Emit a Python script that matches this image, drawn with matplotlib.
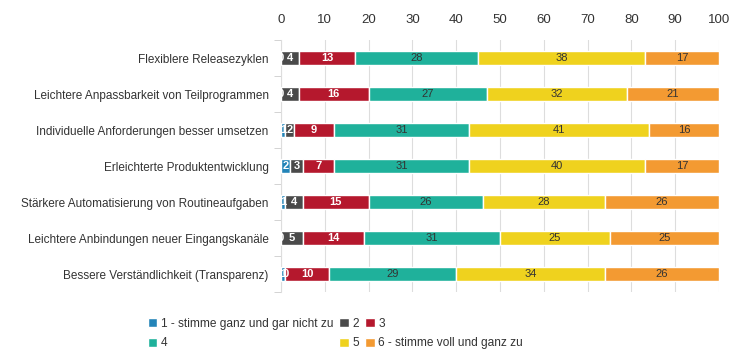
import matplotlib
matplotlib.use('Agg')
import matplotlib.pyplot as plt
import numpy as np

plt.rcParams['font.family'] = ['Liberation Sans', 'DejaVu Sans']

# data (percent per answer level)
categories = [
    'Flexiblere Releasezyklen',
    'Leichtere Anpassbarkeit von Teilprogrammen',
    'Individuelle Anforderungen besser umsetzen',
    'Erleichterte Produktentwicklung',
    'Stärkere Automatisierung von Routineaufgaben',
    'Leichtere Anbindungen neuer Eingangskanäle',
    'Bessere Verständlichkeit (Transparenz)',
]
level1 = [0, 0, 1, 2, 1, 0, 1]
level2 = [4, 4, 2, 3, 4, 5, 0]
level3 = [13, 16, 9, 7, 15, 14, 10]
level4 = [28, 27, 31, 31, 26, 31, 29]
level5 = [38, 32, 41, 40, 28, 25, 34]
level6 = [17, 21, 16, 17, 26, 25, 26]
series_names = ['1 - stimme ganz und gar nicht zu', '2', '3', '4', '5',
                '6 - stimme voll und ganz zu']
x_ticks = [0, 10, 20, 30, 40, 50, 60, 70, 80, 90, 100]

colors = ['#2384b8', '#4a4a4a', '#b5182d', '#1fb19b', '#efd21e', '#f39a32']
text_colors = ['white', 'white', 'white', '#333333', '#333333', '#333333']
text_weights = ['bold', 'bold', 'bold', 'normal', 'normal', 'normal']

series = [level1, level2, level3, level4, level5, level6]

fig = plt.figure(figsize=(7.5, 3.54), dpi=100)
ax = fig.add_axes([0.3747, 0.175, 0.584, 0.712])

y = np.arange(len(categories))
left = np.zeros(len(categories))
handles = []
for i, vals in enumerate(series):
    vals = np.array(vals, dtype=float)
    bars = ax.barh(y, vals, left=left, height=0.4, color=colors[i],
                   edgecolor='white', linewidth=1, label=series_names[i], zorder=3)
    handles.append(bars)
    for yy, l, v in zip(y, left, vals):
        ax.text(l + v / 2, yy, f'{int(v)}', ha='center', va='center',
                fontsize=8, color=text_colors[i], fontweight=text_weights[i],
                zorder=4)
    left += vals

ax.set_xlim(0, 100)
ax.set_ylim(len(categories) - 0.5, -0.5)
ax.set_xticks(x_ticks)
ax.xaxis.tick_top()
ax.tick_params(axis='x', length=0, labelsize=9.5, colors='#333333', pad=10)
ax.set_yticks(y)
ax.set_yticklabels(categories, fontsize=8.5, color='#333333')
ax.tick_params(axis='y', length=0, pad=9)
ax.set_yticks(np.arange(len(categories) + 1) - 0.5, minor=True)
ax.tick_params(axis='y', which='minor', length=5, color='#cccccc')
ax.grid(axis='x', color='#dddddd', linewidth=0.8, zorder=0)
for s in ['top', 'right', 'bottom']:
    ax.spines[s].set_visible(False)
ax.spines['left'].set_color('#dddddd')

order = [0, 3, 1, 4, 2, 5]
leg = fig.legend([handles[k] for k in order], [series_names[k] for k in order],
                 ncol=3, loc='upper left', bbox_to_anchor=(0.197, 0.103),
                 frameon=False, fontsize=8.6, handlelength=0.8, handleheight=0.8,
                 handletextpad=0.3, columnspacing=0.5, labelspacing=0.65,
                 borderaxespad=0, borderpad=0)
for t in leg.get_texts():
    t.set_color('#333333')

fig.savefig('out.png', dpi=100)
